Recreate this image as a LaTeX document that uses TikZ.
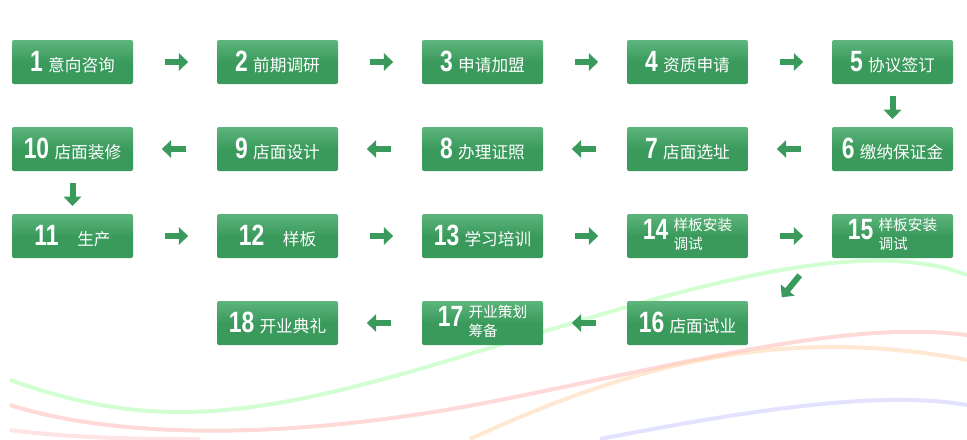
\documentclass[tikz,border=0pt]{standalone}
\usepackage{fontspec}
\newfontfamily\cjk{Noto Sans CJK SC}
\newfontfamily\numf{Liberation Sans}
\usetikzlibrary{arrows.meta,calc}
\definecolor{bx}{HTML}{3A9A5C}
\definecolor{bxl}{HTML}{5DB57C}
\definecolor{ar}{HTML}{3A9A5C}
\tikzset{
 stepbox/.style={minimum width=90.75pt,minimum height=33pt,inner sep=0pt,rounded corners=1.5pt,
   top color=bxl,bottom color=bx,middle color=bx,shading angle=0,text=white,font=\cjk\fontsize{12.5}{13}\selectfont},
 arr/.style={draw=ar,line width=4.5pt,-{Triangle[width=13pt,length=7pt]}},
 wave/.style={line width=3pt,opacity=0.5}
}
\newcommand{\nm}[1]{{\numf\bfseries\fontsize{22}{22}\selectfont\scalebox{0.78}[1]{#1}}\hspace{4pt}}
\newcommand{\two}[2]{{\fontsize{11}{11}\selectfont\begin{tabular}{@{}l@{}}#1\\[2pt]#2\end{tabular}}}
\begin{document}
\begin{tikzpicture}[x=0.75pt,y=-0.75pt]
\useasboundingbox (0,0) rectangle (967,439);
% waves
\draw[wave,draw=green!35] (10,380) .. controls (150,430) and (250,420) .. (450,360) .. controls (650,300) and (850,230) .. (967,275);
\draw[wave,draw=red!30] (10,405) .. controls (120,440) and (300,440) .. (500,400) .. controls (700,360) and (850,320) .. (967,335);
\draw[wave,draw=orange!35] (470,439) .. controls (600,380) and (760,320) .. (967,360);
\draw[wave,draw=blue!22] (600,439) .. controls (750,410) and (880,390) .. (967,405);
\draw[wave,draw=red!22] (10,430) .. controls (80,439) and (150,439) .. (200,439);
% nodes
\def\ca{72.5}\def\cb{277.5}\def\cc{482.5}\def\cd{687.5}\def\ce{892.5}
\def\ra{62}\def\rb{149}\def\rc{236}\def\rd{323}
\node[stepbox] (n1) at (\ca,\ra) {\nm{1}意向咨询};
\node[stepbox] (n2) at (\cb,\ra) {\nm{2}前期调研};
\node[stepbox] (n3) at (\cc,\ra) {\nm{3}申请加盟};
\node[stepbox] (n4) at (\cd,\ra) {\nm{4}资质申请};
\node[stepbox] (n5) at (\ce,\ra) {\nm{5}协议签订};
\node[stepbox] (n6) at (\ce,\rb) {\nm{6}缴纳保证金};
\node[stepbox] (n7) at (\cd,\rb) {\nm{7}店面选址};
\node[stepbox] (n8) at (\cc,\rb) {\nm{8}办理证照};
\node[stepbox] (n9) at (\cb,\rb) {\nm{9}店面设计};
\node[stepbox] (n10) at (\ca,\rb) {\nm{10}店面装修};
\node[stepbox] (n11) at (\ca,\rc) {\nm{11}\hspace{10pt}生产\hspace{16pt}};
\node[stepbox] (n12) at (\cb,\rc) {\nm{12}\hspace{10pt}样板\hspace{16pt}};
\node[stepbox] (n13) at (\cc,\rc) {\nm{13}学习培训};
\node[stepbox] (n14) at (\cd,\rc) {\nm{14}\two{样板安装}{调试}};
\node[stepbox] (n15) at (\ce,\rc) {\nm{15}\two{样板安装}{调试}};
\node[stepbox] (n16) at (\cd,\rd) {\nm{16}店面试业};
\node[stepbox] (n17) at (\cc,\rd) {\nm{17}\two{开业策划}{筹备}};
\node[stepbox] (n18) at (\cb,\rd) {\nm{18}开业典礼};
% arrows
\foreach \a/\b in {n1/n2,n2/n3,n3/n4,n4/n5,n6/n7,n7/n8,n8/n9,n9/n10,n11/n12,n12/n13,n13/n14,n14/n15,n16/n17,n17/n18}
  \draw[arr,shorten >=67pt,shorten <=69pt] (\a.center) -- (\b.center);
\draw[arr,shorten >=22.5pt,shorten <=25.5pt] (n5.center) -- (n6.center);
\draw[arr,shorten >=22.5pt,shorten <=25.5pt] (n10.center) -- (n11.center);
\draw[arr] ($(n15.south west)+(-32,17)$) coordinate (d1) -- ($(n15.south west)+(-50,39)$) coordinate (d2);
\end{tikzpicture}
\end{document}
